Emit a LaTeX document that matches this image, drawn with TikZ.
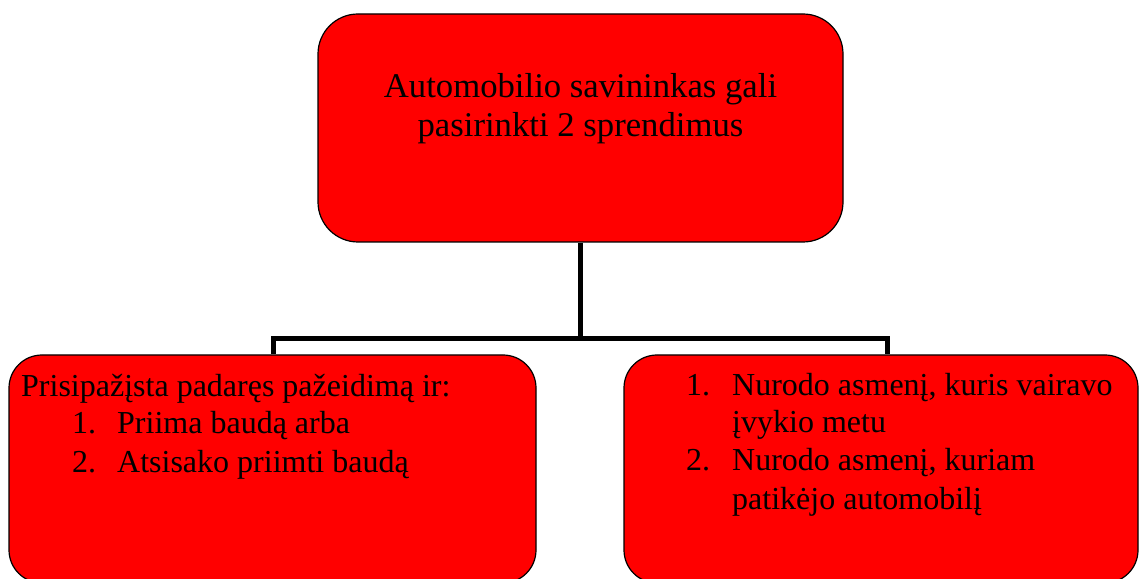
\documentclass[tikz,border=0pt]{standalone}
\usepackage{fontspec}
\setmainfont{Liberation Serif}
\begin{document}
\begin{tikzpicture}[x=1pt,y=1pt,
  box/.style={draw=black, line width=1.2pt, fill=red, rounded corners=33pt, inner sep=0pt},
  conn/.style={draw=black, line width=5pt, line join=miter},
  txt/.style={font=\fontsize{32}{38}\selectfont, inner sep=0pt, anchor=base west},
  ctxt/.style={font=\fontsize{34.7}{40}\selectfont, inner sep=0pt, anchor=base}]
\useasboundingbox (0,0) rectangle (1139,578);
\clip (0,0) rectangle (1139,578);
% junction points
\coordinate (jl) at (273.5,239.5);
\coordinate (jr) at (887.5,239.5);
% boxes
\node[box, rounded corners=40pt, minimum width=525pt, minimum height=228pt] (top) at (580.5,450) {};
\node[box, minimum width=527pt, minimum height=228pt] (left) at (272.5,109) {};
\node[box, minimum width=514pt, minimum height=228pt] (right) at (881,109) {};
% connectors
\draw[conn] (top.south) -- (top.south |- jl);
\draw[conn] (jl |- left.north) -- (jl) -- (jr) -- (jr |- right.north);
% top text
\node[ctxt] (t1) at (580.5,480) {Automobilio savininkas gali};
\node[ctxt] (t2) at (580.5,441) {pasirinkti 2 sprendimus};
% left text
\node[txt] (l0) at (21,181) {Prisipažįsta padaręs pažeidimą ir:};
\node[txt] (l1n) at (72,144) {1.};
\node[txt] (l1) at (117,144) {Priima baudą arba};
\node[txt] (l2n) at (72,106) {2.};
\node[txt] (l2) at (117,106) {Atsisako priimti baudą};
% right text
\node[txt] (r1n) at (686,182) {1.};
\node[txt] (r1) at (732,182) {Nurodo asmenį, kuris vairavo};
\node[txt] (r1b) at (732,145) {įvykio metu};
\node[txt] (r2n) at (686,107) {2.};
\node[txt] (r2) at (732,107) {Nurodo asmenį, kuriam};
\node[txt] (r2b) at (732,69) {patikėjo automobilį};
\end{tikzpicture}
\end{document}
